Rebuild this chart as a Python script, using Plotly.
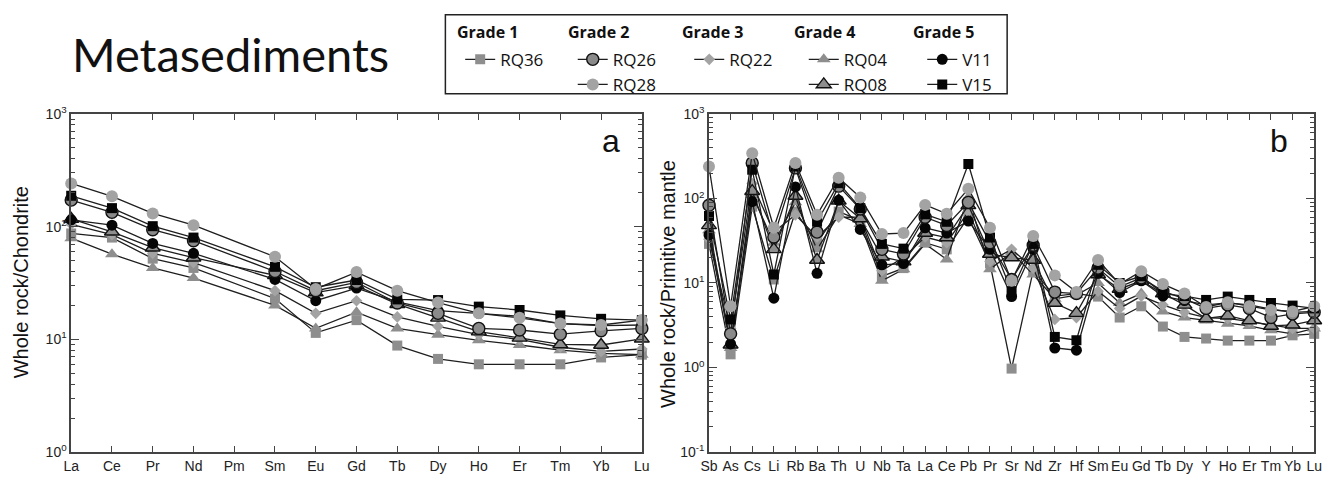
import plotly.graph_objects as go

W, H = 1337, 485

# ---------------- data ----------------
ree = ["La", "Ce", "Pr", "Nd", "Pm", "Sm", "Eu", "Gd", "Tb", "Dy", "Ho", "Er", "Tm", "Yb", "Lu"]
spider = ["Sb", "As", "Cs", "Li", "Rb", "Ba", "Th", "U", "Nb", "Ta", "La", "Ce", "Pb", "Pr", "Sr",
          "Nd", "Zr", "Hf", "Sm", "Eu", "Gd", "Tb", "Dy", "Y", "Ho", "Er", "Tm", "Yb", "Lu"]

# chondrite-normalised REE (Pm not analysed)
ree_RQ36 = [87, 80, 52, 43, None, 23, 11.4, 14.8, 8.8, 6.7, 6.0, 6.0, 6.0, 6.9, 7.3]
ree_RQ04 = [79, 57, 43, 35, None, 20, 12.5, 17.4, 12.5, 11, 9.8, 8.9, 8.0, 7.5, 7.3]
ree_RQ22 = [105, 85, 58, 48, None, 27, 17, 22, 15.8, 13, 11, 10, 8.5, 7.8, 8.2]
ree_RQ08 = [117, 90, 65, 53, None, 37, 26, 30, 20.5, 15.5, 11.7, 10.3, 9.0, 8.9, 10.1]
ree_V11 = [115, 103, 71, 58, None, 34, 22, 28.5, 21.5, 18, 17, 16, 13.8, 13.2, 13.4]
ree_RQ26 = [172, 134, 94, 75, None, 40, 27, 32, 21, 17, 12.5, 12.1, 11.1, 11.9, 12.5]
ree_V15 = [188, 146, 101, 80, None, 44, 29, 33.6, 22.6, 22.3, 19.5, 18.2, 16.3, 15.2, 14.8]
ree_RQ28 = [242, 186, 131, 103, None, 54, 28, 39.5, 27, 21.2, 17, 15.5, 13.8, 13.4, 14.8]

# primitive-mantle-normalised trace elements
pm_RQ36 = [29, 1.43, 80, 11, 70, 30, 70, 55, 12, 15, 30, 25, 60, 17, 0.97,
           14, 7.0, 7.5, 6.9, 3.9, 5.3, 3.05, 2.3, 2.2, 2.08, 2.08, 2.08, 2.4, 2.5]
pm_RQ04 = [42, 1.7, 110, 30, 90, 25, 64, 50, 10.6, 14.5, 29, 19, 103, 14.5, 23,
           12.6, 6.5, 7.2, 10, 5.8, 7.5, 4.6, 3.9, 3.6, 3.3, 3.1, 2.75, 2.5, 2.9]
pm_RQ22 = [33, 2.9, 150, 40, 64, 35, 60, 60, 14, 20, 35, 30, 70, 18, 25,
           15, 3.7, 3.9, 8, 5, 7, 5.5, 4.5, 3.9, 3.8, 3.5, 3.2, 2.9, 2.9]
pm_RQ08 = [48, 1.86, 122, 25, 107, 18.7, 94, 58, 20.4, 17.9, 39, 34.5, 83, 22, 20,
           18.7, 5.8, 4.4, 12.6, 8.5, 10.6, 7.5, 5.5, 3.8, 4.1, 3.6, 3.1, 3.2, 3.6]
pm_V11 = [37, 1.9, 92, 6.6, 137, 13, 95, 43, 16.4, 17, 45, 39, 54, 25, 6.9,
          25, 1.7, 1.6, 13, 7.7, 10.6, 7.0, 6.2, 5.5, 5.8, 5.5, 4.9, 4.5, 4.6]
pm_RQ26 = [83, 2.5, 263, 35, 230, 40, 140, 75, 25, 22, 60, 48, 90, 30, 11,
           28, 7.8, 7.5, 15, 9, 11.5, 8, 6.5, 5.0, 5.5, 5.0, 3.9, 4.3, 4.5]
pm_V15 = [62, 3.7, 219, 12.6, 240, 53, 152, 77, 29, 25.5, 65, 53, 256, 34.5, 8,
          29, 2.3, 2.1, 16.4, 10, 12, 7.5, 7, 6.3, 6.9, 6.3, 5.8, 5.4, 5.0]
pm_RQ28 = [239, 5.3, 342, 45, 263, 64, 176, 103, 38, 39, 84, 66, 130, 45, 10.6,
           36, 12.3, 7.8, 18.7, 9.7, 13.8, 9.7, 7.5, 5.2, 5.9, 5.3, 4.8, 4.6, 5.3]

samples = ["RQ36", "RQ04", "RQ22", "RQ08", "V11", "RQ26", "V15", "RQ28"]
ree_data = {"RQ36": ree_RQ36, "RQ04": ree_RQ04, "RQ22": ree_RQ22, "RQ08": ree_RQ08,
            "V11": ree_V11, "RQ26": ree_RQ26, "V15": ree_V15, "RQ28": ree_RQ28}
pm_data = {"RQ36": pm_RQ36, "RQ04": pm_RQ04, "RQ22": pm_RQ22, "RQ08": pm_RQ08,
           "V11": pm_V11, "RQ26": pm_RQ26, "V15": pm_V15, "RQ28": pm_RQ28}
grades = ["Grade 1", "Grade 2", "Grade 3", "Grade 4", "Grade 5"]
sample_grade = {"RQ36": 1, "RQ26": 2, "RQ28": 2, "RQ22": 3, "RQ04": 4, "RQ08": 4, "V11": 5, "V15": 5}

# ---------------- styles ----------------
GRAY = "#8e8e8e"
LIGHT = "#a3a3a3"
styles = {
    "RQ36": dict(symbol="square", size=10, color=GRAY, line=dict(width=0)),
    "RQ26": dict(symbol="circle", size=12, color="#8a8a8a", line=dict(width=1.4, color="#111")),
    "RQ28": dict(symbol="circle", size=12, color=LIGHT, line=dict(width=0)),
    "RQ22": dict(symbol="diamond", size=9, color=LIGHT, line=dict(width=0)),
    "RQ04": dict(symbol="triangle-up", size=12, color=GRAY, line=dict(width=0)),
    "RQ08": dict(symbol="triangle-up", size=13, color=GRAY, line=dict(width=1.4, color="#111")),
    "V11": dict(symbol="circle", size=11, color="#050505", line=dict(width=0)),
    "V15": dict(symbol="square", size=10, color="#050505", line=dict(width=0)),
}
legend_names = {1: "legend", 2: "legend2", 3: "legend3", 4: "legend4", 5: "legend5"}

def px_x(p):
    return p / W

def px_y(p):
    return 1 - p / H

fig = go.Figure()
for s in samples:
    for xa, ya, cats, vals, show in (("x", "y", ree, ree_data[s], True),
                                     ("x2", "y2", spider, pm_data[s], False)):
        fig.add_trace(go.Scatter(
            x=cats, y=vals, name=s, mode="lines+markers",
            xaxis=xa, yaxis=ya, connectgaps=True, cliponaxis=False,
            line=dict(color="#1e1e1e", width=1.3),
            marker=styles[s], showlegend=show,
            legend=legend_names[sample_grade[s]],
        ))

AX = "#444"
tickfont = dict(family="Liberation Sans Narrow, Arial Narrow, Liberation Sans, Arial", size=14, color="#222")
common_x = dict(type="category", showgrid=False, zeroline=False, showline=True, linecolor=AX,
                linewidth=1.5, mirror="allticks", ticks="inside", ticklen=6, tickcolor=AX,
                tickfont=tickfont)
common_y = dict(type="log", showgrid=False, zeroline=False, showline=True, linecolor=AX,
                linewidth=1.5, mirror="allticks", ticks="inside", ticklen=8, tickcolor=AX,
                tickfont=dict(family="Liberation Sans, Arial", size=14, color="#222"),
                minor=dict(ticks="inside", ticklen=4, tickcolor=AX, dtick="D1", showgrid=False))

yd = [px_y(459), px_y(108)]
fig.update_layout(
    width=W, height=H, margin=dict(l=0, r=0, t=0, b=0),
    paper_bgcolor="white", plot_bgcolor="white",
    xaxis=dict(common_x, domain=[px_x(63), px_x(641)], range=[0, len(ree) - 1],
               categoryorder="array", categoryarray=ree, anchor="y"),
    yaxis=dict(common_y, domain=yd, range=[0, 3], anchor="x",
               tickvals=[1, 10, 100, 1000],
               ticktext=["10<sup>0</sup>", "10<sup>1</sup>", "10<sup>2</sup>", "10<sup>3</sup>"]),
    xaxis2=dict(common_x, domain=[px_x(709), px_x(1322)], range=[0, len(spider) - 1],
                categoryorder="array", categoryarray=spider, anchor="y2"),
    yaxis2=dict(common_y, domain=yd, range=[-1, 3], anchor="x2",
                tickvals=[0.1, 1, 10, 100, 1000],
                ticktext=["10<sup>-1</sup>", "10<sup>0</sup>", "10<sup>1</sup>", "10<sup>2</sup>", "10<sup>3</sup>"]),
)

# legends, one per grade; grade headers as annotations
leg_x = [457, 571, 689, 805, 925]
head_x = [454, 566, 682, 795, 916]
for i, g in enumerate(grades, start=1):
    fig.update_layout(**{legend_names[i]: dict(
        x=px_x(leg_x[i - 1]), y=px_y(33), xanchor="left", yanchor="top",
        bgcolor="rgba(0,0,0,0)", borderwidth=0, tracegroupgap=0, itemwidth=30,
        font=dict(family="Open Sans", size=17, color="#111"),
    )})
    fig.add_annotation(text="<b>" + g + "</b>", xref="paper", yref="paper",
                       x=px_x(head_x[i - 1] - 2), y=px_y(23), xanchor="left", yanchor="middle",
                       showarrow=False, font=dict(family="Open Sans", size=16, color="#111"))

fig.add_shape(type="rect", xref="paper", yref="paper",
              x0=px_x(442), x1=px_x(1011), y0=px_y(87), y1=px_y(5),
              line=dict(color="#222", width=1.5))

fig.add_annotation(text="Metasediments", xref="paper", yref="paper", x=px_x(62), y=px_y(46),
                   xanchor="left", yanchor="middle", showarrow=False,
                   font=dict(family="Lato", size=47, color="#111"))
fig.add_annotation(text="Whole rock/Chondrite", xref="paper", yref="paper", x=px_x(13),
                   y=px_y(283), textangle=-90, showarrow=False, xanchor="center", yanchor="middle",
                   font=dict(family="Liberation Sans, Arial", size=20, color="#111"))
fig.add_annotation(text="Whole rock/Primitive mantle", xref="paper", yref="paper", x=px_x(668),
                   y=px_y(285), textangle=-90, showarrow=False, xanchor="center", yanchor="middle",
                   font=dict(family="Liberation Sans, Arial", size=20, color="#111"))
fig.add_annotation(text="a", xref="paper", yref="paper", x=px_x(610), y=px_y(136),
                   showarrow=False, xanchor="center", yanchor="middle",
                   font=dict(family="Liberation Sans, Arial", size=32, color="#111"))
fig.add_annotation(text="b", xref="paper", yref="paper", x=px_x(1286), y=px_y(136),
                   showarrow=False, xanchor="center", yanchor="middle",
                   font=dict(family="Liberation Sans, Arial", size=32, color="#111"))

fig.write_html("out.html")
